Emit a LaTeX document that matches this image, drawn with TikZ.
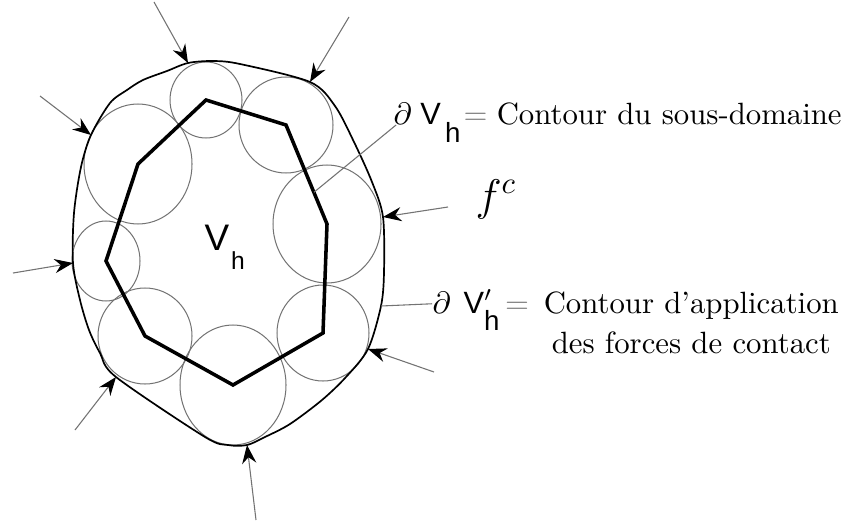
\documentclass[tikz,border=0pt]{standalone}
\usepackage{fontspec}
\setsansfont{Liberation Sans}
\usetikzlibrary{arrows.meta,calc}

\newcommand{\grayeq}{\textcolor{black!50}{$=$}}

\begin{document}
\begin{tikzpicture}[
  x=0.325pt,
  y=-0.325pt,
  contour/.style={draw=black, line width=0.55pt},
  subdom/.style={draw=black, line width=1.15pt, line join=miter},
  bubble/.style={draw=black!55, line width=0.33pt},
  force/.style={draw=black!55, line width=0.35pt,
    -{Stealth[length=6pt, width=4.6pt, inset=2pt, color=black]}},
  leader/.style={draw=black!55, line width=0.35pt},
  label/.style={inner sep=0pt, anchor=base west}
]
\useasboundingbox (0,0) rectangle (855,521);

% sub-domain vertices (particle centres)
\coordinate (p1) at (206,100);
\coordinate (p2) at (286,125);
\coordinate (p3) at (327,224);
\coordinate (p4) at (323,333);
\coordinate (p5) at (233,385);
\coordinate (p6) at (145,336);
\coordinate (p7) at (106,261);
\coordinate (p8) at (138,164);

% particles
\foreach \c/\rx/\ry in {p1/36/38, p2/47/48, p3/54/59, p4/46/48,
                        p5/53/60, p6/47/48, p7/34/40, p8/54/60}
  \draw[bubble] (\c) ellipse [x radius=\rx, y radius=\ry];

% points of the outer contour where forces act
\coordinate (t1) at (188,63);
\coordinate (t2) at (310,82);
\coordinate (t3) at (91,135);
\coordinate (t4) at (73,263);
\coordinate (t5) at (116,377);
\coordinate (t6) at (247,445);
\coordinate (t7) at (368,349);
\coordinate (t8) at (383,217);
\coordinate (q) at (381,306);

% outer contour
\draw[contour] plot[smooth cycle, tension=0.5] coordinates {
  (t1) (213,61) (240,64) (t2) (335,106) (354,142) (372,182) (t8)
  (384,272) (q) (t7) (346,377) (322,400) (290,424) (265,437) (t6)
  (228,445) (205,437) (t5) (100,353) (89,330) (80,300) (t4) (74,213)
  (81,167) (t3) (110,103) (127,90) (143,80) (167,71)};

% sub-domain boundary
\draw[subdom] (p1) -- (p2) -- (p3) -- (p4) -- (p5) -- (p6) -- (p7) -- (p8) -- cycle;

% contact forces
\coordinate (a1) at (154,2);
\coordinate (a2) at (349,17);
\coordinate (a3) at (40,96);
\coordinate (a4) at (13,273);
\coordinate (a5) at (75,430);
\coordinate (a6) at (256,520);
\coordinate (a7) at (434,372);
\coordinate (a8) at (448,207);
\foreach \i in {1,...,8}
  \draw[force] (a\i) -- (t\i);

% labels
\node[label] (vh) at (204,250) {\large\sffamily V\hspace{0.6pt}\raisebox{-6.3pt}{\footnotesize h}};
\node[label] (fc) at (475,210) {\Large $f^{c}$};
\node[label] (dvh) at (393,125)
  {$\partial$\hspace{2.8pt}{\sffamily V}\hspace{1.4pt}\raisebox{-5.6pt}{\small\sffamily h}\hspace{1pt}\grayeq\hspace{3pt}Contour du sous-domaine};
\node[label] (dvp) at (432,313)
  {$\partial$\hspace{4.2pt}{\sffamily V}\rlap{$'$}\raisebox{-5.6pt}{\small\sffamily h}\hspace{1.8pt}\grayeq\hspace{4.8pt}\begin{tabular}[t]{@{}c@{}}Contour d'application\\[1pt] des forces de contact\end{tabular}};

% leaders
\coordinate (s1) at ($(p2)!0.68!(p3)$);
\draw[leader] (s1) -- ([xshift=1pt]dvh.base west);
\draw[leader] (q) -- ([yshift=3pt]dvp.base west);
\end{tikzpicture}
\end{document}
